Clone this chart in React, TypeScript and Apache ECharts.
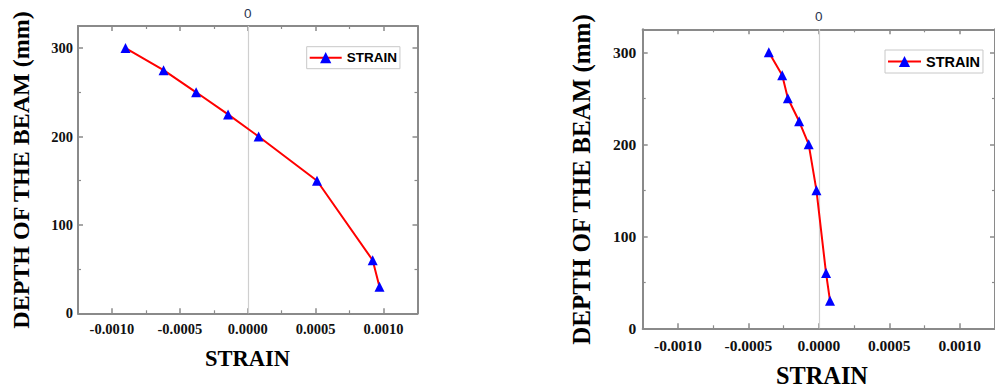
import React, { useEffect, useRef } from "react";
import * as echarts from "echarts";

// ---- data ----
const depth = [300, 275, 250, 225, 200, 150, 60, 30];
const strainLeft = [-0.0009, -0.00062, -0.00038, -0.000145, 0.00008, 0.00051, 0.00092, 0.00097];
const strainRight = [-0.000355, -0.00026, -0.00022, -0.00014, -0.000072, -0.000017, 0.000051, 0.000079];

const xMajorTicks = [-0.001, -0.0005, 0, 0.0005, 0.001];
const xMinorTicks = [-0.00075, -0.00025, 0.00025, 0.00075];
const yMajorTicks = [0, 100, 200, 300];
const yMinorTicks = [50, 150, 250];

const seriesName = "STRAIN";
const xTitle = "STRAIN";
const yTitle = "DEPTH OF THE BEAM (mm)";
const zeroLabel = "0";

const X_MIN = -0.00125;
const X_MAX = 0.00125;
const Y_MIN = 0;
const Y_MAX = 325;

const AXIS_COLOR = "#8a8a8a";
const SERIF = '"Liberation Serif", "Times New Roman", serif';
const SANS = '"Liberation Sans", Arial, sans-serif';

export default function App() {
  const ref = useRef<HTMLDivElement>(null);

  useEffect(() => {
    document.body.style.margin = "0";
    if (!ref.current) return;
    const chart = echarts.init(ref.current, undefined, { renderer: "svg" });

    const grids = [
      { left: 78, top: 26, width: 339.5, height: 287.3 },
      { left: 642.7, top: 29.3, width: 359.3, height: 299 },
    ];
    const labelSize = [14.5, 15.5];
    const labelMarginX = [8, 9];
    const labelMarginY = [5, 6.5];

    const xAxes: any[] = [];
    const yAxes: any[] = [];
    const mainX: number[] = [];
    const mainY: number[] = [];

    grids.forEach((_, g) => {
      const baseX = {
        type: "value",
        gridIndex: g,
        min: X_MIN,
        max: X_MAX,
        splitLine: { show: false },
      };
      mainX.push(xAxes.length);
      xAxes.push({
        ...baseX,
        position: "bottom",
        axisLine: { show: true, onZero: false, lineStyle: { color: AXIS_COLOR, width: 2 } },
        axisTick: { show: true, inside: true, length: 5, customValues: xMajorTicks, lineStyle: { color: AXIS_COLOR, width: 1.5 } },
        axisLabel: {
          show: true,
          customValues: xMajorTicks,
          formatter: (v: number) => v.toFixed(4),
          fontFamily: SERIF,
          fontWeight: "bold",
          fontSize: labelSize[g],
          color: "#111",
          margin: labelMarginX[g],
        },
      });
      xAxes.push({
        ...baseX,
        position: "bottom",
        axisLine: { show: false, onZero: false },
        axisTick: { show: true, inside: true, length: 3, customValues: xMinorTicks, lineStyle: { color: AXIS_COLOR, width: 1.2 } },
        axisLabel: { show: false },
      });
      xAxes.push({
        ...baseX,
        position: "top",
        axisLine: { show: true, onZero: false, lineStyle: { color: AXIS_COLOR, width: 2 } },
        axisTick: { show: true, inside: true, length: 5, customValues: xMajorTicks, lineStyle: { color: AXIS_COLOR, width: 1.5 } },
        axisLabel: { show: false },
      });
      xAxes.push({
        ...baseX,
        position: "top",
        axisLine: { show: false, onZero: false },
        axisTick: { show: true, inside: true, length: 3, customValues: xMinorTicks, lineStyle: { color: AXIS_COLOR, width: 1.2 } },
        axisLabel: { show: false },
      });

      const baseY = {
        type: "value",
        gridIndex: g,
        min: Y_MIN,
        max: Y_MAX,
        splitLine: { show: false },
      };
      mainY.push(yAxes.length);
      yAxes.push({
        ...baseY,
        position: "left",
        axisLine: { show: true, onZero: false, lineStyle: { color: AXIS_COLOR, width: 2 } },
        axisTick: { show: true, inside: true, length: 5, customValues: yMajorTicks, lineStyle: { color: AXIS_COLOR, width: 1.5 } },
        axisLabel: {
          show: true,
          customValues: yMajorTicks,
          formatter: (v: number) => String(v),
          fontFamily: SERIF,
          fontWeight: "bold",
          fontSize: labelSize[g],
          color: "#111",
          margin: labelMarginY[g],
        },
      });
      yAxes.push({
        ...baseY,
        position: "left",
        axisLine: { show: false, onZero: false },
        axisTick: { show: true, inside: true, length: 3, customValues: yMinorTicks, lineStyle: { color: AXIS_COLOR, width: 1.2 } },
        axisLabel: { show: false },
      });
      yAxes.push({
        ...baseY,
        position: "right",
        axisLine: { show: true, onZero: false, lineStyle: { color: AXIS_COLOR, width: 2 } },
        axisTick: { show: true, inside: true, length: 5, customValues: yMajorTicks, lineStyle: { color: AXIS_COLOR, width: 1.5 } },
        axisLabel: { show: false },
      });
      yAxes.push({
        ...baseY,
        position: "right",
        axisLine: { show: false, onZero: false },
        axisTick: { show: true, inside: true, length: 3, customValues: yMinorTicks, lineStyle: { color: AXIS_COLOR, width: 1.2 } },
        axisLabel: { show: false },
      });
    });

    const strains = [strainLeft, strainRight];
    const series = strains.map((s, g) => ({
      name: seriesName,
      type: "line",
      xAxisIndex: mainX[g],
      yAxisIndex: mainY[g],
      data: s.map((x, i) => [x, depth[i]]),
      symbol: "triangle",
      symbolSize: 10,
      lineStyle: { color: "#ff0000", width: 2 },
      itemStyle: { color: "#0000ff" },
      z: 3,
      markLine: {
        silent: true,
        symbol: "none",
        z: 1,
        lineStyle: { color: "#cfcfcf", type: "solid", width: 1.2 },
        label: {
          show: true,
          position: "end",
          formatter: zeroLabel,
          color: "#2a3550",
          fontFamily: SANS,
          fontSize: 13.5,
          distance: 6,
        },
        data: [{ xAxis: 0 }],
      },
    }));

    const legends = [
      { left: 306.7, top: 46.7, fontSize: 13.5, itemWidth: 32 },
      { left: 885, top: 50, fontSize: 14.5, itemWidth: 33 },
    ].map((l) => ({
      show: true,
      left: l.left,
      top: l.top,
      orient: "horizontal",
      data: [seriesName],
      padding: [4, 3, 4, 2],
      itemWidth: l.itemWidth,
      itemHeight: 14,
      backgroundColor: "#fff",
      borderColor: "#c8c8c8",
      borderWidth: 1,
      selectedMode: false,
      textStyle: {
        fontFamily: SANS,
        fontWeight: "bold",
        fontSize: l.fontSize,
        color: "#000",
      },
    }));

    const graphic = [
      {
        type: "text",
        x: 21,
        y: 170,
        rotation: Math.PI / 2,
        style: {
          text: yTitle,
          fontFamily: SERIF,
          fontWeight: "bold",
          fontSize: 24,
          fill: "#000",
          align: "center",
          verticalAlign: "middle",
        },
      },
      {
        type: "text",
        x: 581.7,
        y: 179.5,
        rotation: Math.PI / 2,
        style: {
          text: yTitle,
          fontFamily: SERIF,
          fontWeight: "bold",
          fontSize: 25,
          fill: "#000",
          align: "center",
          verticalAlign: "middle",
        },
      },
      {
        type: "text",
        x: 247.5,
        y: 358,
        style: {
          text: xTitle,
          fontFamily: SERIF,
          fontWeight: "bold",
          fontSize: 22.5,
          fill: "#000",
          align: "center",
          verticalAlign: "middle",
        },
      },
      {
        type: "text",
        x: 822,
        y: 375,
        style: {
          text: xTitle,
          fontFamily: SERIF,
          fontWeight: "bold",
          fontSize: 24.3,
          fill: "#000",
          align: "center",
          verticalAlign: "middle",
        },
      },
    ];

    chart.setOption({
      animation: false,
      backgroundColor: "#fff",
      grid: grids.map((g) => ({ ...g, containLabel: false })),
      xAxis: xAxes,
      yAxis: yAxes,
      legend: legends,
      series,
      graphic,
    });

    return () => {
      chart.dispose();
    };
  }, []);

  return <div ref={ref} style={{ width: 995, height: 388 }} />;
}
